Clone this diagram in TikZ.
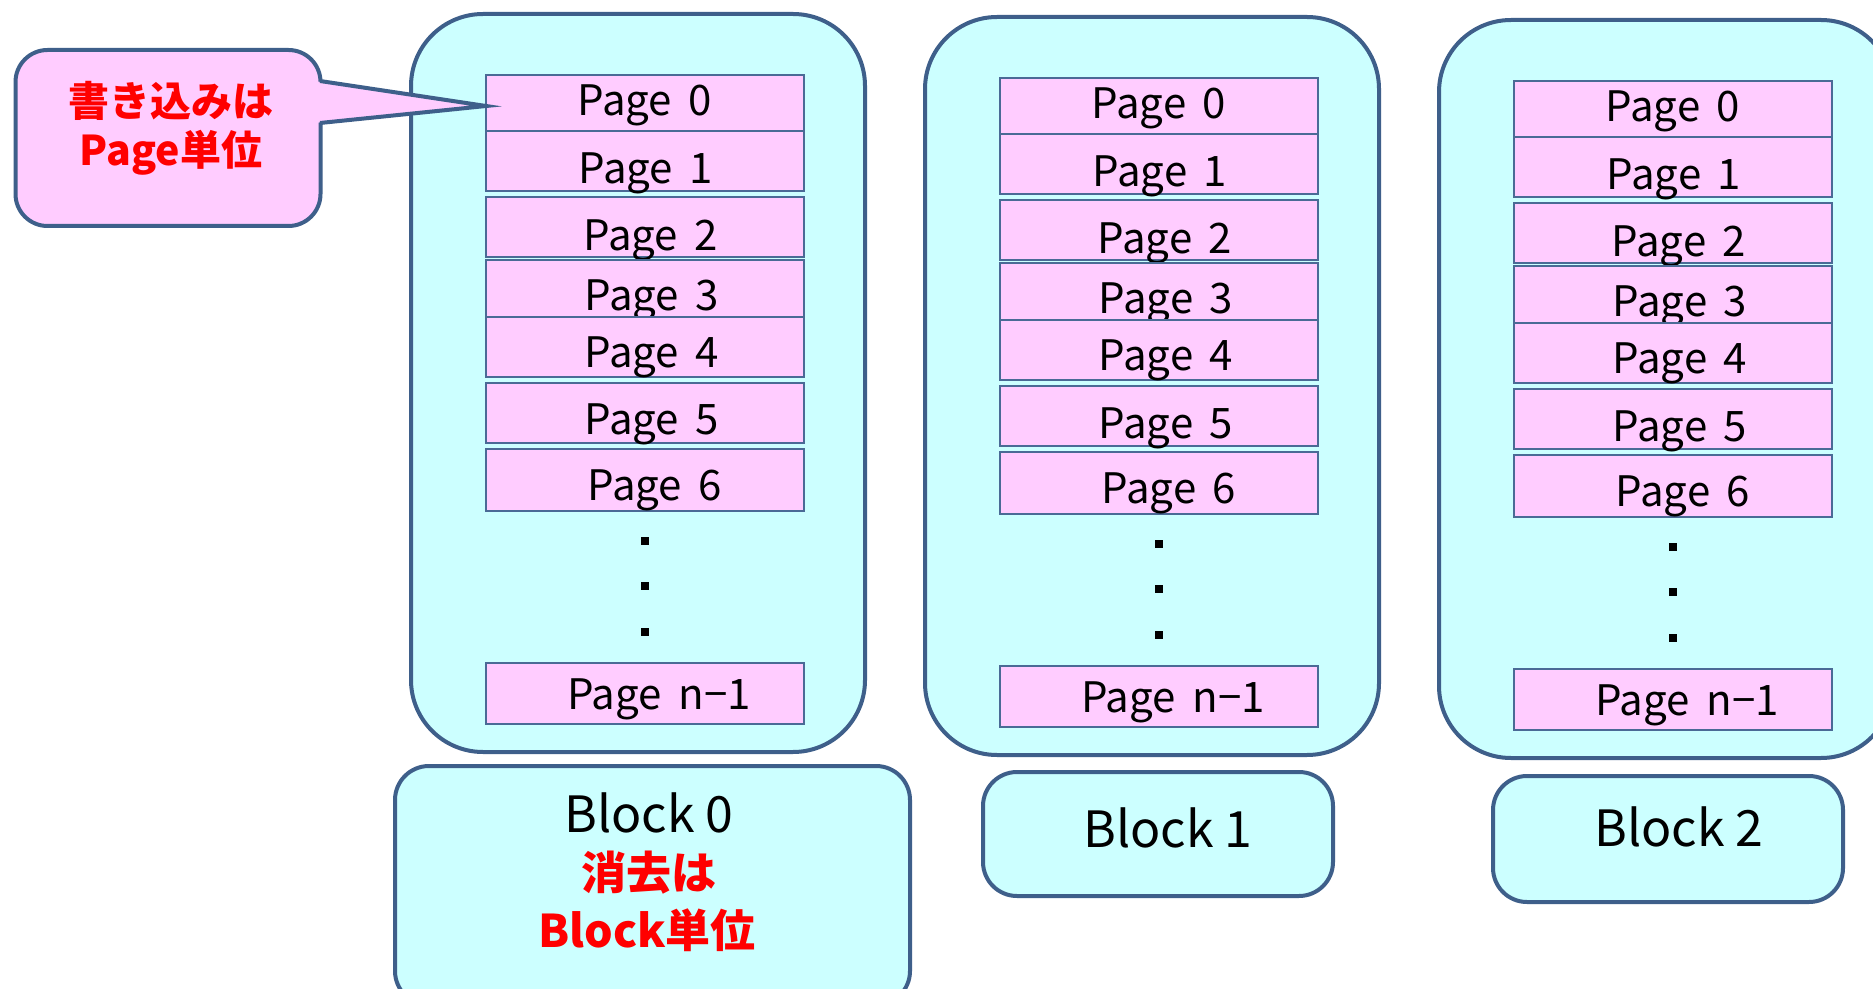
\documentclass[tikz,border=0pt]{standalone}
\usepackage{fontspec}
\setmainfont{Noto Sans CJK JP}
\definecolor{cyanfill}{HTML}{CCFFFF}
\definecolor{bordblue}{HTML}{3E5F8A}
\definecolor{pinkfill}{HTML}{FFCCFF}
\definecolor{pageborder}{HTML}{4A6A96}
\definecolor{redtext}{HTML}{FF0000}
\newcommand\pgsp{\hspace{0.4em}}
\tikzset{
  blockbox/.style={draw=bordblue, fill=cyanfill, line width=2pt, rounded corners=36pt, inner sep=0pt},
  labelbox/.style={draw=bordblue, fill=cyanfill, line width=2pt, rounded corners=17pt, inner sep=0pt},
  pagebox/.style={draw=pageborder, fill=pinkfill, line width=1pt, inner sep=0pt, minimum width=159pt},
  pagetext/.style={inner sep=0pt, font=\fontsize{21pt}{24pt}\selectfont, anchor=base},
  blocktext/.style={inner sep=0pt, font=\fontsize{25pt}{30pt}\selectfont},
  redlabel/.style={inner sep=0pt, text=redtext, font=\bfseries\fontsize{22.5pt}{28pt}\selectfont},
  callred/.style={inner sep=0pt, text=redtext, font=\bfseries\fontsize{20.5pt}{25pt}\selectfont},
  calloutbox/.style={draw=bordblue, fill=pinkfill, line width=2pt, rounded corners=16pt, inner sep=0pt},
  dotsq/.style={fill=black, inner sep=0pt, minimum size=3.8pt},
}
\begin{document}
\begin{tikzpicture}[x=0.5pt, y=-0.5pt]
\useasboundingbox (0,0) rectangle (1873,989);
\clip (0,0) rectangle (1873,989);
\fill[white] (0,0) rectangle (1873,989);
% blocks
\foreach \b/\dx/\dy in {0/0/0, 1/514/3, 2/1028/6} {
  \node[blockbox, minimum width=227pt, minimum height=369pt] (blk\b) at ({638+\dx},{383+\dy}) {};
  \foreach \p/\top/\bot/\lab/\tx/\ty in {
      0/75/131/0/645/116,
      1/131/191/1/646/184,
      2/197/257/2/651/251,
      3/260/317/3/652/311,
      4/317/377/4/652/368,
      5/383/443/5/652/435,
      6/449/511/6/655/500,
      7/663/724/n−1/659/709} {
    \node[pagebox, minimum height={(\bot-\top)*0.5pt}] (b\b p\p) at ({645+\dx},{(\top+\bot)/2+\dy}) {};
    \node[pagetext] (b\b t\p) at ({\tx+\dx},{\ty+\dy}) {Page\pgsp\lab};
  }
  \foreach \d/\yy in {1/541, 2/586, 3/632} {
    \node[dotsq] (b\b d\d) at ({645+\dx},{\yy+\dy}) {};
  }
}
% label boxes
\node[labelbox, minimum width=257.5pt, minimum height=119.5pt] (lab0) at (652.5,885.5) {};
\node[blocktext] (lab0t) at (649,813) {Block 0};
\node[redlabel] (lab0r1) at (649,873) {消去は};
\node[redlabel] (lab0r2) at (647,930) {Block単位};
\node[labelbox, minimum width=175pt, minimum height=62pt] (lab1) at (1158,834) {};
\node[blocktext] (lab1t) at (1168,828) {Block 1};
\node[labelbox, minimum width=175pt, minimum height=63pt] (lab2) at (1668,839) {};
\node[blocktext] (lab2t) at (1679,827) {Block 2};
% callout
\node[calloutbox, minimum width=152.5pt, minimum height=88pt] (call) at (168,138) {};
\coordinate (wtop) at (320,81);
\coordinate (wbot) at (320,123);
\coordinate (wtip) at (486,106);
\fill[pinkfill] (314,81) -- (wtip) -- (314,123) -- cycle;
\draw[bordblue, line width=2pt, line join=miter] (wtop) -- (wtip) -- (wbot);
\node[callred] (callt1) at (171,101) {書き込みは};
\node[callred] (callt2) at (171,153) {Page単位};
\end{tikzpicture}
\end{document}
